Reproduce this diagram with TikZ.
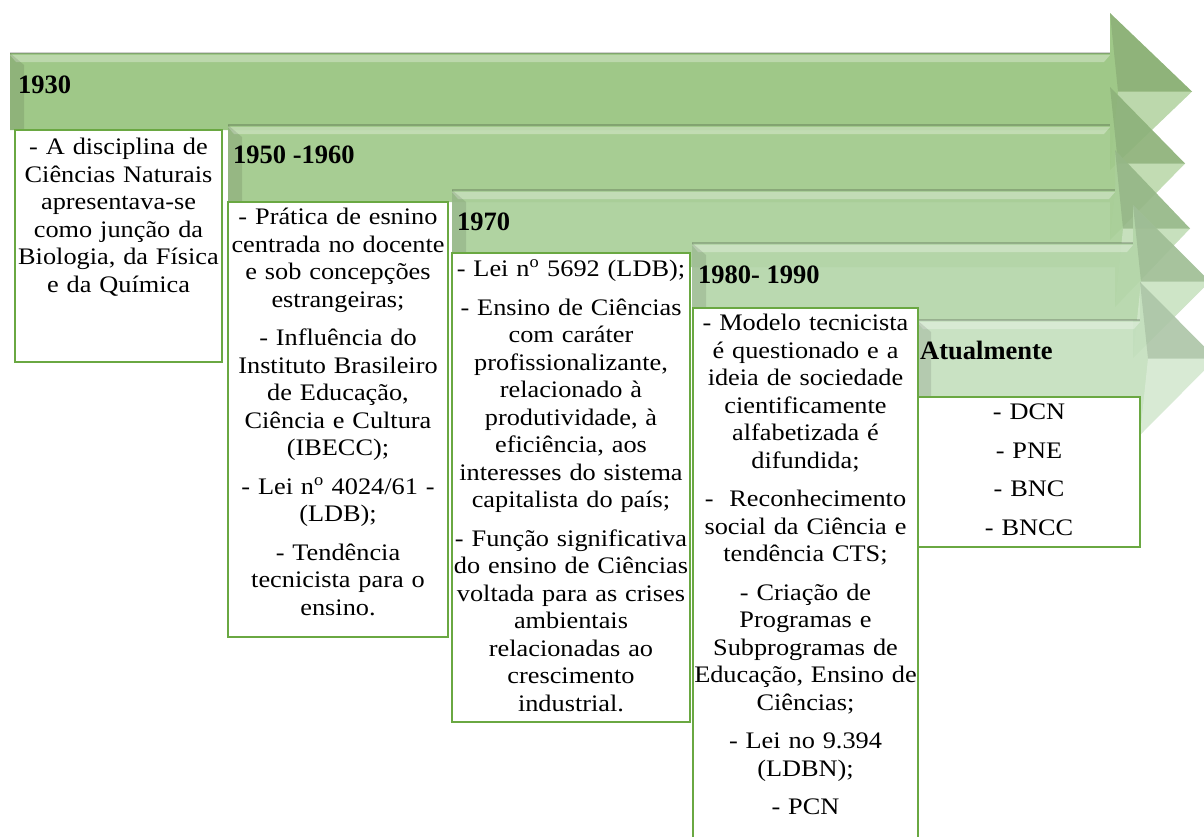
\documentclass[tikz,border=0pt]{standalone}
\usepackage{fontspec}
\setmainfont{Liberation Serif}[FakeStretch=1.11]
\newfontfamily\yearfont{Liberation Serif}
\usepackage{tikz}
\usepackage{xcolor}
\definecolor{bandac}{HTML}{97C37E}
\definecolor{bandbc}{HTML}{A0C98A}
\definecolor{bandcc}{HTML}{A9CF99}
\definecolor{banddc}{HTML}{B4D6A9}
\definecolor{bandec}{HTML}{C4DFBE}
\definecolor{notec}{HTML}{6AA842}
\tikzset{
  band/.style={fill opacity=0.92},
  shine/.style={fill=white, fill opacity=0.30},
  shade/.style={fill=black, fill opacity=0.10},
  edge/.style={draw=black, draw opacity=0.18, line width=1.5pt},
  note/.style={draw=notec, line width=2.2pt, fill=white},
  notetext/.style={anchor=north, inner sep=0pt, align=center, text width=250pt, font=\fontsize{23.7}{27.5}\selectfont},
  year/.style={anchor=west, inner sep=0pt, font=\yearfont\fontsize{26.5}{30}\selectfont\bfseries},
}

\begin{document}
\begin{tikzpicture}[x=1pt,y=-1pt]
\useasboundingbox (0,0) rectangle (1204,836);
\clip (0,0) rectangle (1204,836);
% 1930
\fill[band, fill=bandac] (10,53) -- (1110,53) -- (1110,13) -- (1192,91.5) -- (1110,170) -- (1110,130) -- (10,130) -- cycle;
\fill[shine] (10,55) -- (1110,55) -- (1104,62) -- (16,62) -- cycle;
\fill[shade] (10,53) -- (24,65) -- (24,130) -- (10,130) -- cycle;
\fill[shade] (1110,13) -- (1192,91.5) -- (1118,91.5) -- cycle;
\fill[shine] (1110,170) -- (1192,91.5) -- (1118,91.5) -- cycle;
\draw[edge] (10,53) -- (1110,53);
% 1950 -1960
\fill[band, fill=bandbc] (228,125) -- (1110,125) -- (1110,87) -- (1185,163.5) -- (1110,240) -- (1110,202) -- (228,202) -- cycle;
\fill[shine] (228,127) -- (1110,127) -- (1104,134) -- (234,134) -- cycle;
\fill[shade] (228,125) -- (242,137) -- (242,202) -- (228,202) -- cycle;
\fill[shade] (1110,87) -- (1185,163.5) -- (1118,163.5) -- cycle;
\fill[shine] (1110,240) -- (1185,163.5) -- (1118,163.5) -- cycle;
\draw[edge] (228,125) -- (1110,125);
% 1970
\fill[band, fill=bandcc] (452,190) -- (1115,190) -- (1115,150) -- (1190,228.5) -- (1115,307) -- (1115,267) -- (452,267) -- cycle;
\fill[shine] (452,192) -- (1115,192) -- (1109,199) -- (458,199) -- cycle;
\fill[shade] (452,190) -- (466,202) -- (466,267) -- (452,267) -- cycle;
\fill[shade] (1115,150) -- (1190,228.5) -- (1123,228.5) -- cycle;
\fill[shine] (1115,307) -- (1190,228.5) -- (1123,228.5) -- cycle;
\draw[edge] (452,190) -- (1115,190);
% 1980- 1990
\fill[band, fill=banddc] (692,243) -- (1133,243) -- (1133,205) -- (1210,281.5) -- (1133,358) -- (1133,320) -- (692,320) -- cycle;
\fill[shine] (692,245) -- (1133,245) -- (1127,252) -- (698,252) -- cycle;
\fill[shade] (692,243) -- (706,255) -- (706,320) -- (692,320) -- cycle;
\fill[shade] (1133,205) -- (1210,281.5) -- (1141,281.5) -- cycle;
\fill[shine] (1133,358) -- (1210,281.5) -- (1141,281.5) -- cycle;
\draw[edge] (692,243) -- (1133,243);
% Atualmente
\fill[band, fill=bandec] (917,320) -- (1140,320) -- (1140,282) -- (1216,358.5) -- (1140,435) -- (1140,397) -- (917,397) -- cycle;
\fill[shine] (917,322) -- (1140,322) -- (1134,329) -- (923,329) -- cycle;
\fill[shade] (917,320) -- (931,332) -- (931,397) -- (917,397) -- cycle;
\fill[shade] (1140,282) -- (1216,358.5) -- (1148,358.5) -- cycle;
\fill[shine] (1140,435) -- (1216,358.5) -- (1148,358.5) -- cycle;
\draw[edge] (917,320) -- (1140,320);

\node[year] (y1930) at (18,85) {1930};
\node[year] (y1950) at (233,155) {1950 -1960};
\node[year] (y1970) at (457,222) {1970};
\node[year] (y1980) at (698,275) {1980- 1990};
\node[year] (yhoje) at (920,350) {Atualmente};

\draw[note] (15,130) rectangle (222,362);
\draw[note] (228,202) rectangle (448,637);
\draw[note] (452,253) rectangle (690,722);
\draw[note] (693,308) rectangle (918,850);
\draw[note] (918,397) rectangle (1140,547);

\node[notetext] (t1930) at (118.5,138) {- A disciplina de\\ Ciências Naturais\\ apresentava-se\\ como junção da\\ Biologia, da Física\\ e da Química};
\node[notetext] (t1950) at (338,208) {- Prática de esnino\\ centrada no docente\\ e sob concepções\\ estrangeiras;\\[11pt] - Influência do\\ Instituto Brasileiro\\ de Educação,\\ Ciência e Cultura\\ (IBECC);\\[11pt] - Lei n\textsuperscript{o} 4024/61 -\\ (LDB);\\[11pt] - Tendência\\ tecnicista para o\\ ensino.};
\node[notetext] (t1970) at (571,259.5) {- Lei n\textsuperscript{o} 5692 (LDB);\\[11pt] - Ensino de Ciências\\ com caráter\\ profissionalizante,\\ relacionado à\\ produtividade, à\\ eficiência, aos\\ interesses do sistema\\ capitalista do país;\\[11pt] - Função significativa\\ do ensino de Ciências\\ voltada para as crises\\ ambientais\\ relacionadas ao\\ crescimento\\ industrial.};
\node[notetext] (t1980) at (805.5,314) {- Modelo tecnicista\\ é questionado e a\\ ideia de sociedade\\ cientificamente\\ alfabetizada é\\ difundida;\\[11pt] - \ Reconhecimento\\ social da Ciência e\\ tendência CTS;\\[11pt] - Criação de\\ Programas e\\ Subprogramas de\\ Educação, Ensino de\\ Ciências;\\[11pt] - Lei no 9.394\\ (LDBN);\\[11pt] - PCN};
\node[notetext] (thoje) at (1029,404) {- DCN\\[11pt] - PNE\\[11pt] - BNC\\[11pt] - BNCC};
\end{tikzpicture}
\end{document}
